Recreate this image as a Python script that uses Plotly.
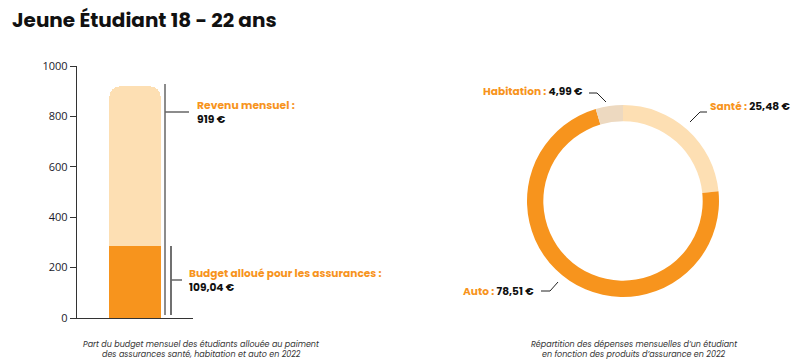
import plotly.graph_objects as go

W, H = 809, 360

# ---- data ----
title_text = "Jeune Étudiant 18 - 22 ans"
bar_category = ["Étudiant"]
revenu_mensuel = [919]          # total bar height
budget_assurances_drawn = [285]  # height of the dark part as drawn in the picture
budget_label = "109,04 €"
revenu_label = "919 €"
y_ticks = [0, 200, 400, 600, 800, 1000]

donut_labels = ["Santé", "Auto", "Habitation"]
donut_values = [25.48, 78.51, 4.99]
donut_text = ["25,48 €", "78,51 €", "4,99 €"]

ORANGE = "#F7941D"
LIGHT = "#FDDFB3"
BEIGE = "#EDD9C0"
FONT = "Poppins, Open Sans, sans-serif"

fig = go.Figure()

light_part = [r - b for r, b in zip(revenu_mensuel, budget_assurances_drawn)]
fig.add_trace(go.Bar(x=bar_category, y=budget_assurances_drawn, marker_color=ORANGE,
                     marker_line_width=0, name="Budget assurances", hoverinfo="skip"))
fig.add_trace(go.Bar(x=bar_category, y=light_part, marker_color=LIGHT,
                     marker_line_width=0, name="Revenu", hoverinfo="skip"))

fig.add_trace(go.Pie(labels=donut_labels, values=donut_values, hole=0.83, sort=False,
                     direction="clockwise", rotation=0, textinfo="none",
                     marker=dict(colors=[LIGHT, ORANGE, BEIGE], line=dict(width=0)),
                     domain=dict(x=[527 / W, 719 / W], y=[1 - 297 / H, 1 - 105 / H]),
                     showlegend=False))

fig.update_layout(
    width=W, height=H, margin=dict(l=0, r=0, t=0, b=0, autoexpand=False),
    paper_bgcolor="white", plot_bgcolor="white",
    barmode="stack", bargap=0.56, barcornerradius=10, showlegend=False,
    font=dict(family=FONT, color="#111"),
    xaxis=dict(domain=[77 / W, 193 / W], showticklabels=False, showgrid=False,
               showline=True, linecolor="#333", linewidth=1.3, ticks="", zeroline=False,
               fixedrange=True, automargin=False),
    yaxis=dict(domain=[1 - 318 / H, 1 - 66 / H], range=[0, 1000], tickvals=y_ticks,
               showgrid=False, zeroline=False, showline=True, linecolor="#333",
               linewidth=1.3, ticks="outside", ticklen=6, tickcolor="#333",
               automargin=False,
               tickfont=dict(size=11, color="#1a1a2a", family="Open Sans, sans-serif")),
)

shapes = []
# bracket for revenue
shapes.append(dict(type="line", xref="paper", yref="paper",
                   x0=165 / W, x1=165 / W, y0=1 - 315 / H, y1=1 - 84 / H,
                   line=dict(color="#666", width=1.5)))
shapes.append(dict(type="line", xref="paper", yref="paper",
                   x0=165 / W, x1=189 / W, y0=1 - 112 / H, y1=1 - 112 / H,
                   line=dict(color="#666", width=1.5)))
# bracket for budget
shapes.append(dict(type="line", xref="paper", yref="paper",
                   x0=171 / W, x1=171 / W, y0=1 - 315 / H, y1=1 - 246 / H,
                   line=dict(color="#111", width=1.2)))
shapes.append(dict(type="line", xref="paper", yref="paper",
                   x0=171 / W, x1=182 / W, y0=1 - 280 / H, y1=1 - 280 / H,
                   line=dict(color="#666", width=1.5)))


def leader(points):
    d = "M " + " L ".join(f"{x / W},{1 - y / H}" for x, y in points)
    return dict(type="path", xref="paper", yref="paper", path=d,
                line=dict(color="#222", width=1))


shapes.append(leader([(589, 93), (597, 93), (606, 102)]))
shapes.append(leader([(707, 112), (700, 112), (690, 122)]))
shapes.append(leader([(541, 291), (550, 291), (558, 282)]))
fig.update_layout(shapes=shapes)


def label(x, y, txt, size=11, xanchor="left", color="#111", italic=False):
    if italic:
        txt = f"<i>{txt}</i>"
    fig.add_annotation(x=x / W, y=1 - y / H, xref="paper", yref="paper", text=txt,
                       showarrow=False, xanchor=xanchor, yanchor="middle", align="left",
                       font=dict(size=size, color=color, family=FONT))


def two_tone(name, value):
    return f"<b><span style='color:{ORANGE}'>{name} :</span> {value}</b>"


def stacked(name, value):
    return f"<b><span style='color:{ORANGE}'>{name} :</span><br>{value}</b>"


label(10, 20, f"<b>{title_text}</b>", size=20)
label(195, 112, stacked("Revenu mensuel", revenu_label), size=10.8)
label(187, 280, stacked("Budget alloué pour les assurances", budget_label), size=10.6)

label(585, 91, two_tone(donut_labels[2], donut_text[2]), size=10.6, xanchor="right")
label(708, 106, two_tone(donut_labels[0], donut_text[0]), size=10.6, xanchor="left")
label(536, 291, two_tone(donut_labels[1], donut_text[1]), size=10.6, xanchor="right")

label(201, 344, "Part du budget mensuel des étudiants allouée au paiment", size=8,
      xanchor="center", color="#333", italic=True)
label(201, 354, "des assurances santé, habitation et auto en 2022", size=8,
      xanchor="center", color="#333", italic=True)
label(634, 344, "Répartition des dépenses mensuelles d’un étudiant", size=8,
      xanchor="center", color="#333", italic=True)
label(634, 354, "en fonction des produits d’assurance en 2022", size=8,
      xanchor="center", color="#333", italic=True)

fig.write_html("out.html", config={"displayModeBar": False},
               post_script="document.body.style.margin='0';")
